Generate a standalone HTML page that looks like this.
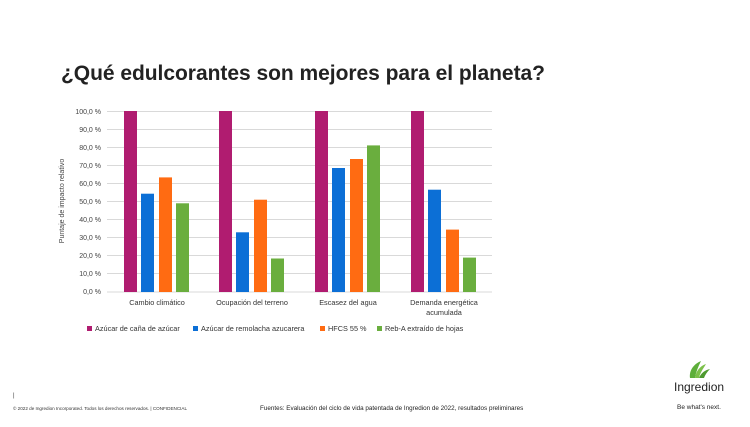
<!DOCTYPE html>
<html><head><meta charset="utf-8"><style>
body{margin:0;background:#fff;width:750px;height:422px;overflow:hidden;font-family:"Liberation Sans",sans-serif}
</style></head><body>
<svg width="750" height="422" xmlns="http://www.w3.org/2000/svg" font-family="Liberation Sans, sans-serif">
<text x="61" y="80" font-size="21" font-weight="bold" fill="#222" textLength="484">¿Qué edulcorantes son mejores para el planeta?</text>
<g stroke="#d9d9d9" stroke-width="1">
<line x1="107" x2="492" y1="111.5" y2="111.5"/><line x1="107" x2="492" y1="129.5" y2="129.5"/>
<line x1="107" x2="492" y1="147.5" y2="147.5"/><line x1="107" x2="492" y1="165.5" y2="165.5"/>
<line x1="107" x2="492" y1="183.5" y2="183.5"/><line x1="107" x2="492" y1="201.5" y2="201.5"/>
<line x1="107" x2="492" y1="219.5" y2="219.5"/><line x1="107" x2="492" y1="237.5" y2="237.5"/>
<line x1="107" x2="492" y1="255.5" y2="255.5"/><line x1="107" x2="492" y1="273.5" y2="273.5"/>
<line x1="107" x2="492" y1="292" y2="292"/>
</g>
<g font-size="7" fill="#444" text-anchor="end">
<text x="101" y="114">100,0 %</text><text x="101" y="132">90,0 %</text><text x="101" y="150">80,0 %</text>
<text x="101" y="168">70,0 %</text><text x="101" y="186">60,0 %</text><text x="101" y="204">50,0 %</text>
<text x="101" y="222">40,0 %</text><text x="101" y="240">30,0 %</text><text x="101" y="258">20,0 %</text>
<text x="101" y="276">10,0 %</text><text x="101" y="294">0,0 %</text>
</g>
<text transform="translate(64,201) rotate(-90)" font-size="7" fill="#444" text-anchor="middle">Puntaje de impacto relativo</text>
<g id="bars">
<rect x="124" y="111" width="13" height="181" fill="#B01C70"/>
<rect x="141" y="193.7" width="13" height="98.3" fill="#0C6FD6"/>
<rect x="159" y="177.4" width="13" height="114.6" fill="#FF6B12"/>
<rect x="176" y="203.3" width="13" height="88.7" fill="#6AAE3E"/>

<rect x="219" y="111" width="13" height="181" fill="#B01C70"/>
<rect x="236" y="232.3" width="13" height="59.7" fill="#0C6FD6"/>
<rect x="254" y="199.7" width="13" height="92.3" fill="#FF6B12"/>
<rect x="271" y="258.5" width="13" height="33.5" fill="#6AAE3E"/>

<rect x="315" y="111" width="13" height="181" fill="#B01C70"/>
<rect x="332" y="168" width="13" height="124" fill="#0C6FD6"/>
<rect x="350" y="159" width="13" height="133" fill="#FF6B12"/>
<rect x="367" y="145.4" width="13" height="146.6" fill="#6AAE3E"/>

<rect x="411" y="111" width="13" height="181" fill="#B01C70"/>
<rect x="428" y="189.7" width="13" height="102.3" fill="#0C6FD6"/>
<rect x="446" y="229.6" width="13" height="62.4" fill="#FF6B12"/>
<rect x="463" y="257.6" width="13" height="34.4" fill="#6AAE3E"/>
</g>
<g font-size="7.3" fill="#333" text-anchor="middle">
<text x="157" y="305">Cambio climático</text>
<text x="252" y="305">Ocupación del terreno</text>
<text x="348" y="305">Escasez del agua</text>
<text x="444" y="305">Demanda energética</text>
<text x="444" y="315">acumulada</text>
</g>
<g font-size="7.3" fill="#333">
<rect x="87" y="326" width="5" height="5" fill="#B01C70"/><text x="95" y="331">Azúcar de caña de azúcar</text>
<rect x="193" y="326" width="5" height="5" fill="#0C6FD6"/><text x="201" y="331">Azúcar de remolacha azucarera</text>
<rect x="320" y="326" width="5" height="5" fill="#FF6B12"/><text x="328" y="331">HFCS 55 %</text>
<rect x="377" y="326" width="5" height="5" fill="#6AAE3E"/><text x="385" y="331">Reb-A extraído de hojas</text>
</g>
<text x="13" y="397" font-size="6" fill="#333">|</text>
<text x="13" y="410" font-size="4.6" fill="#333">© 2022 de Ingredion Incorporated. Todos los derechos reservados.  |  CONFIDENCIAL</text>
<text x="260" y="410" font-size="6.3" fill="#222">Fuentes: Evaluación del ciclo de vida patentada de Ingredion de 2022, resultados preliminares</text>
<g transform="translate(698,364)">
<path d="M-8,14 C-9,6 -4,0 3,-3 C0,3 -2,8 -3,14 Z" fill="#5DAE3A"/>
<path d="M-3,14 C-2,7 2,2 8,0 C5,5 2,9 1,14 Z" fill="#7CC04A"/>
<path d="M1,14 C3,9 7,6 12,5 C9,8 7,11 6,14 Z" fill="#4E9A30"/>
</g>
<text x="674" y="391" font-size="12" fill="#222">Ingredion</text>
<text x="677" y="409" font-size="6.5" fill="#222">Be what's next.</text>
</svg>
</body></html>
